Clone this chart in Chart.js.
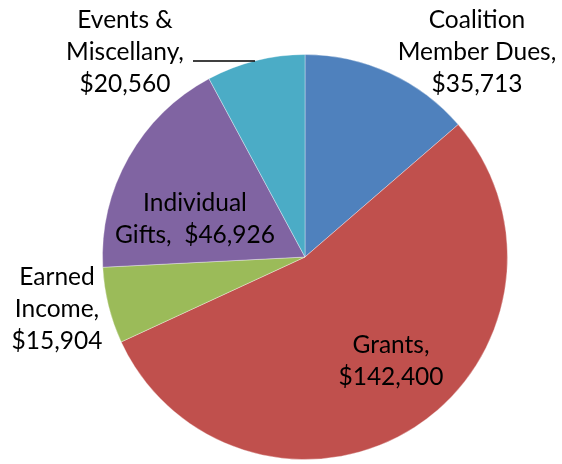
<!DOCTYPE html>
<html>
<head>
<meta charset="utf-8">
<script src="https://cdn.jsdelivr.net/npm/chart.js@4/dist/chart.umd.min.js"></script>
<style>
  html, body { margin: 0; padding: 0; background: #fff; }
  #wrap { width: 562px; height: 464px; }
</style>
</head>
<body>
<div id="wrap"><canvas id="pie" width="562" height="464"></canvas></div>
<script>
const categories = ['Coalition Member Dues', 'Grants', 'Earned Income', 'Individual Gifts', 'Events & Miscellany'];
const amounts = [35713, 142400, 15904, 46926, 20560];
const colors = ['#4F81BD', '#C0504D', '#9BBB59', '#8064A2', '#4BACC6'];

// label lines and where they sit, as offsets from the pie centre
const labelLines = [
  ['Coalition', 'Member Dues,', '$35,713'],
  ['Grants,', '$142,400'],
  ['Earned', 'Income,', '$15,904'],
  ['Individual', 'Gifts,  $46,926'],
  ['Events &', 'Miscellany,', '$20,560']
];
const labelPos = [[172, -237], [86, 88], [-248, 20], [-110, -54], [-180, -237]];

const labelPlugin = {
  id: 'sliceLabels',
  afterDatasetsDraw(chart) {
    const ctx = chart.ctx;
    const arc = chart.getDatasetMeta(0).data[0];
    const cx = arc.x, cy = arc.y;
    ctx.save();
    ctx.fillStyle = '#000';
    ctx.font = '24.5px Lato, "Open Sans", sans-serif';
    ctx.textAlign = 'center';
    ctx.textBaseline = 'middle';
    labelLines.forEach((lines, i) => {
      const [dx, dy] = labelPos[i];
      lines.forEach((t, j) => {
        ctx.fillText(t, cx + dx, cy + dy + j * 32);
      });
    });
    // leader line for the events slice
    ctx.strokeStyle = '#000';
    ctx.lineWidth = 1.5;
    ctx.beginPath();
    ctx.moveTo(cx - 112, cy - 196);
    ctx.lineTo(cx - 50, cy - 196);
    ctx.stroke();
    ctx.restore();
  }
};

new Chart(document.getElementById('pie').getContext('2d'), {
  type: 'pie',
  data: {
    labels: categories,
    datasets: [{
      data: amounts,
      backgroundColor: colors,
      borderColor: 'rgba(255,255,255,0.35)',
      borderWidth: 1
    }]
  },
  options: {
    responsive: false,
    animation: false,
    layout: { padding: { left: 102, right: 54, top: 54, bottom: 4 } },
    plugins: {
      legend: { display: false },
      tooltip: { enabled: false }
    }
  },
  plugins: [labelPlugin]
});
</script>
</body>
</html>
